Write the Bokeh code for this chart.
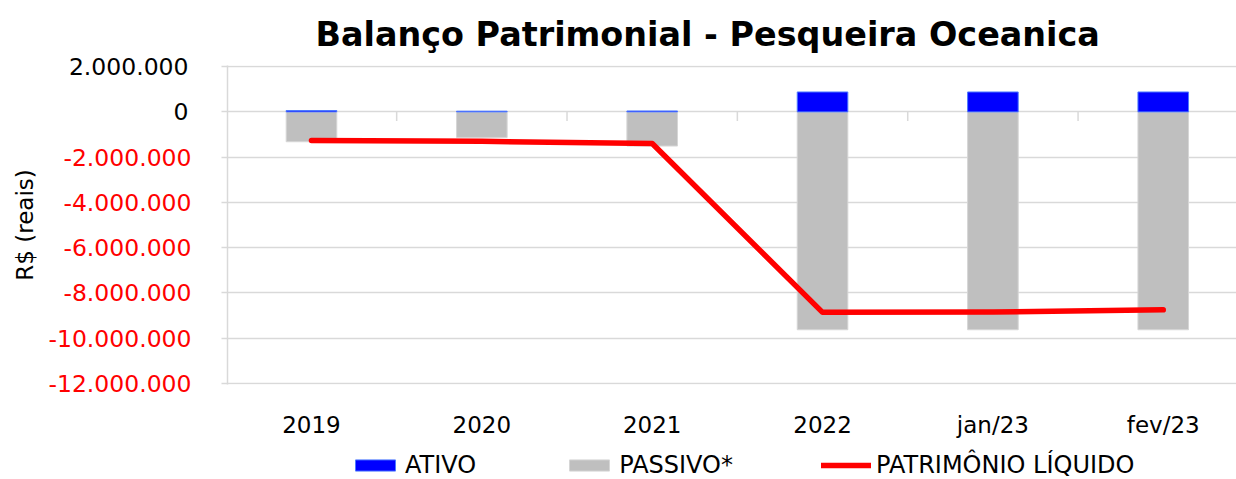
from bokeh.plotting import figure
from bokeh.layouts import column
from bokeh.models import (Range1d, FixedTicker, ColumnDataSource, LinearAxis,
                          Legend, LegendItem)
from bokeh.embed import file_html
from bokeh.resources import INLINE

# ---- data ----
categories = ["2019", "2020", "2021", "2022", "jan/23", "fev/23"]
ativo = [60_000, 30_000, 40_000, 880_000, 880_000, 880_000]
passivo = [-1_320_000, -1_130_000, -1_510_000, -9_630_000, -9_630_000, -9_630_000]
patrimonio = [-1_270_000, -1_300_000, -1_400_000, -8_860_000, -8_850_000, -8_750_000]
y_ticks = [2_000_000, 0, -2_000_000, -4_000_000, -6_000_000, -8_000_000,
           -10_000_000, -12_000_000]

FONT = "DejaVu Sans"
GRID = "#d9d9d9"
BLUE = "#0000ff"
GRAY = "#bfbfbf"
RED = "#ff0000"
LEFT = 227

def fmt(v):
    return f"{v:,}".replace(",", ".")

xs = list(range(len(categories)))
src = ColumnDataSource(dict(x=xs, ativo=ativo, passivo=passivo, pl=patrimonio))

pad = 50_000
x_start, x_end = -0.493, 5.430
p = figure(width=1236, height=440, output_backend="svg", toolbar_location=None,
           x_range=Range1d(x_start, x_end),
           y_range=Range1d(min(y_ticks) - pad, max(y_ticks) + pad),
           min_border_left=LEFT, min_border_right=0, min_border_top=65,
           min_border_bottom=54)
p.outline_line_color = None

# title
p.title.text = "Balanço Patrimonial - Pesqueira Oceanica"
p.title.text_font = FONT
p.title.text_font_style = "bold"
p.title.text_font_size = "33.4px"
p.title.text_color = "black"
p.title.align = "left"
p.title.offset = 88
p.title.standoff = 23

# grids
p.xgrid.visible = False
p.ygrid.grid_line_color = GRID
p.ygrid.grid_line_width = 1.5

# inner y axis: negative labels in red
yax = p.yaxis[0]
yax.ticker = FixedTicker(ticks=y_ticks)
yax.major_label_overrides = {v: (fmt(v) if v < 0 else "") for v in y_ticks}
yax.major_label_text_color = RED
yax.major_label_text_font = FONT
yax.major_label_text_font_size = "23.5px"
yax.major_label_standoff = 30
yax.major_tick_out = 6
yax.major_tick_in = 0
yax.minor_tick_out = 0
yax.minor_tick_in = 0
yax.major_tick_line_color = GRID
yax.major_tick_line_width = 1.5
yax.axis_line_color = GRID
yax.axis_line_width = 1.5

# outer y axis: non-negative labels in black, pulled back over the inner labels
pos_ticks = [v for v in y_ticks if v >= 0]
yb = LinearAxis(ticker=FixedTicker(ticks=pos_ticks),
                major_label_overrides={v: fmt(v) for v in pos_ticks},
                major_label_text_color="black", major_label_text_font=FONT,
                major_label_text_font_size="23.5px", major_label_standoff=-143,
                major_tick_out=0, major_tick_in=0, minor_tick_out=0, minor_tick_in=0,
                axis_line_color=None, major_tick_line_color=None,
                minor_tick_line_color=None,
                axis_label="R$ (reais)", axis_label_text_font=FONT,
                axis_label_text_font_size="23px", axis_label_text_font_style="normal",
                axis_label_text_color="black", axis_label_standoff=28)
p.add_layout(yb, "left")

# x axis
xax = p.xaxis[0]
xax.ticker = FixedTicker(ticks=xs)
xax.major_label_overrides = {i: c for i, c in enumerate(categories)}
xax.major_label_text_font = FONT
xax.major_label_text_font_size = "23px"
xax.major_label_text_color = "black"
xax.major_label_standoff = 21
xax.axis_line_color = None
xax.major_tick_line_color = None
xax.minor_tick_line_color = None

# small category-boundary ticks on the zero line
bounds = [i + 0.5 for i in xs[:-1]]
p.segment(x0=bounds, x1=bounds, y0=[0] * len(bounds), y1=[-400_000] * len(bounds),
          line_color=GRID, line_width=1.5)

# bars and line
bw = 0.297
bar_pas = dict(fill_color=GRAY, line_color="#d6d6d6", line_width=1)
bar_at = dict(fill_color=BLUE, line_color="#4f7bff", line_width=1)
line_pl = dict(line_color=RED, line_width=5.5, line_cap="round", line_join="round")
p.vbar(x="x", top=0, bottom="passivo", width=bw, source=src, **bar_pas)
p.vbar(x="x", top="ativo", bottom=0, width=bw, source=src, **bar_at)
p.line(x="x", y="pl", source=src, **line_pl)

# ---- legend strip below (own small figure so nothing is clipped) ----
far = 1e9
lf = figure(width=1236, height=39, output_backend="svg", toolbar_location=None,
            x_range=Range1d(far, far + 1), y_range=Range1d(far, far + 1),
            x_axis_type=None, y_axis_type=None,
            min_border_left=LEFT, min_border_right=0, min_border_top=0,
            min_border_bottom=0)
lf.outline_line_color = None
lf.border_fill_color = "white"
lf.background_fill_color = "white"
lf.grid.visible = False
l_at = lf.vbar(x="x", top="ativo", bottom=0, width=bw, source=src, **bar_at)
l_pas = lf.vbar(x="x", top=0, bottom="passivo", width=bw, source=src, **bar_pas)
l_pl = lf.line(x="x", y="pl", source=src, **line_pl)

legend = Legend(items=[LegendItem(label="ATIVO", renderers=[l_at]),
                       LegendItem(label="PASSIVO*", renderers=[l_pas]),
                       LegendItem(label="PATRIMÔNIO LÍQUIDO", renderers=[l_pl])],
                orientation="horizontal", location=(350 - LEFT, 0), spacing=88,
                glyph_width=50, glyph_height=14, label_standoff=5,
                label_text_font=FONT, label_text_font_size="24px",
                label_text_color="black", border_line_color=None,
                background_fill_alpha=0, padding=0, margin=0)
lf.add_layout(legend, "center")

layout = column(p, lf, spacing=0)
open("out.html", "w").write(file_html(layout, INLINE))
